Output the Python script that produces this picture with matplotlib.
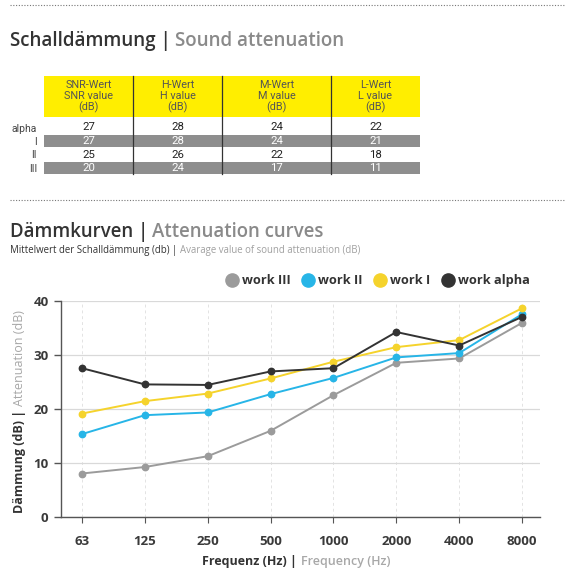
import matplotlib
matplotlib.use('Agg')
import matplotlib.pyplot as plt
from matplotlib.lines import Line2D
from matplotlib.patches import Rectangle

# --- Daten ---
freqs = ['63', '125', '250', '500', '1000', '2000', '4000', '8000']
work_alpha = [27.5, 24.5, 24.4, 26.9, 27.5, 34.2, 31.7, 37.0]
work_1 = [19.1, 21.4, 22.8, 25.6, 28.7, 31.4, 32.7, 38.6]
work_2 = [15.3, 18.8, 19.3, 22.7, 25.7, 29.5, 30.3, 37.5]
work_3 = [8.0, 9.2, 11.2, 15.9, 22.5, 28.5, 29.3, 35.9]

table_cols = ['SNR-Wert\nSNR value\n(dB)', 'H-Wert\nH value\n(dB)',
              'M-Wert\nM value\n(dB)', 'L-Wert\nL value\n(dB)']
table_rows = ['alpha', 'I', 'II', 'III']
snr_vals = [27, 27, 25, 20]
h_vals = [28, 28, 26, 24]
m_vals = [24, 24, 22, 17]
l_vals = [22, 21, 18, 11]

C_GRAY = '#9b9b9b'
C_BLUE = '#27b5e7'
C_YELLOW = '#f5d32c'
C_BLACK = '#333333'
DARK = '#333333'
LIGHT = '#8a8a8a'

W, H = 587, 586
fig = plt.figure(figsize=(W / 100, H / 100), dpi=100)
fig.patch.set_facecolor('white')

# Hintergrund-Achse in Pixelkoordinaten
bg = fig.add_axes([0, 0, 1, 1])
bg.set_xlim(0, W)
bg.set_ylim(H, 0)
bg.axis('off')

renderer = fig.canvas.get_renderer()


def multi_text(x, y, parts, rotation=0, gap=4, **kw):
    # Text in mehreren Farben hintereinander setzen
    for txt, color, weight in parts:
        if rotation == 0:
            t = bg.text(x, y, txt, color=color, fontweight=weight,
                        ha='left', va='center', **kw)
            bb = t.get_window_extent(renderer).transformed(bg.transData.inverted())
            x = max(bb.x0, bb.x1) + gap
        else:
            t = bg.text(x, y, txt, color=color, fontweight=weight, rotation=90,
                        ha='center', va='bottom', **kw)
            bb = t.get_window_extent(renderer).transformed(bg.transData.inverted())
            y = min(bb.y0, bb.y1) - gap


# gepunktete Trennlinien
for yy in [4.5, 200]:
    bg.plot([10, 565], [yy, yy], color='#777777', lw=0.8, ls=(0, (1, 1.5)))

# Titel
multi_text(10, 41, [('Schalldämmung |', DARK, 'semibold'),
                    ('Sound attenuation', LIGHT, 'semibold')],
           fontsize=13.5, family='Open Sans')
multi_text(10, 232, [('Dämmkurven |', DARK, 'semibold'),
                     ('Attenuation curves', LIGHT, 'semibold')],
           fontsize=13.4, family='Open Sans')
multi_text(10, 250, [('Mittelwert der Schalldämmung (db) |', DARK, 'normal'),
                     ('Avarage value of sound attenuation (dB)', '#a0a0a0', 'normal')],
           gap=2.5, fontsize=6.9, family='Open Sans')

# --- Tabelle ---
col_edges = [44, 133, 222, 331, 420]
head_top, head_bot = 76, 117
row_y = [127.5, 141, 154.5, 168]
row_h = 12
bg.add_patch(Rectangle((col_edges[0], head_top), col_edges[-1] - col_edges[0],
                       head_bot - head_top, color='#ffee00', lw=0))
values = list(zip(snr_vals, h_vals, m_vals, l_vals))
for i, (lab, vals) in enumerate(zip(table_rows, values)):
    shaded = i % 2 == 1
    if shaded:
        bg.add_patch(Rectangle((col_edges[0], row_y[i] - row_h / 2),
                               col_edges[-1] - col_edges[0], row_h,
                               color='#8e8e8e', lw=0))
    bg.text(37, row_y[i] + 1, lab, ha='right', va='center', fontsize=7.5,
            family='Roboto', color='#444444')
    for j, v in enumerate(vals):
        cx = (col_edges[j] + col_edges[j + 1]) / 2
        bg.text(cx, row_y[i], str(v), ha='center', va='center', fontsize=8.2,
                family='Roboto', color='white' if shaded else '#222222')
for j, lab in enumerate(table_cols):
    cx = (col_edges[j] + col_edges[j + 1]) / 2
    bg.text(cx, (head_top + head_bot) / 2, lab, ha='center', va='center',
            fontsize=7.8, family='Roboto', color='#555555', linespacing=1.1)
for xe in col_edges[1:-1]:
    bg.plot([xe, xe], [head_top, 174], color='#333333', lw=0.9)

# --- Diagramm ---
ax = fig.add_axes([61 / W, (H - 516.7) / H, 479 / W, 216 / H])
xs = range(len(freqs))
series = [(work_3, C_GRAY, 'work III'), (work_2, C_BLUE, 'work II'),
          (work_1, C_YELLOW, 'work I'), (work_alpha, C_BLACK, 'work alpha')]
handles = []
for vals, col, lab in series:
    ax.plot(xs, vals, color=col, lw=1.4, marker='o', ms=4.6, label=lab, zorder=3)
    handles.append(Line2D([], [], ls='none', marker='o', ms=9.5, color=col, label=lab))

ax.set_xlim(-0.334, 7.286)
ax.set_ylim(0, 40)
ax.set_yticks([0, 10, 20, 30, 40])
ax.set_xticks(list(xs))
ax.set_xticklabels(freqs)
for s in ['top', 'right']:
    ax.spines[s].set_visible(False)
for s in ['left', 'bottom']:
    ax.spines[s].set_color('#555555')
    ax.spines[s].set_linewidth(1.0)
ax.yaxis.grid(True, color='#d9d9d9', lw=0.9)
ax.xaxis.grid(True, color='#e3e3e3', lw=0.7, ls=(0, (3, 3)))
ax.set_axisbelow(True)
ax.tick_params(axis='y', length=5, width=1, color='#555555', pad=4)
ax.tick_params(axis='x', length=4, width=0.8, color='#555555', pad=9)
for t in ax.get_xticklabels() + ax.get_yticklabels():
    t.set_fontweight('bold')
    t.set_fontsize(9.5)
    t.set_color('#3a3a3a')
    t.set_family('Open Sans')

leg = fig.legend(handles=handles, ncol=4, frameon=False,
                 loc='center right', bbox_to_anchor=(535 / W, 1 - 281 / H),
                 handlelength=0.9, handletextpad=0.35, columnspacing=0.9,
                 borderaxespad=0, prop={'family': 'Open Sans', 'weight': 'bold', 'size': 9.2})
for t in leg.get_texts():
    t.set_color('#333333')

# Achsenbeschriftungen
multi_text(202, 562, [('Frequenz (Hz) |', DARK, 'bold'),
                      ('Frequency (Hz)', '#a8a8a8', 'semibold')],
           fontsize=9, family='Open Sans')
multi_text(20, 513, [('Dämmung (dB) |', DARK, 'bold'),
                     ('Attenuation (dB)', '#a8a8a8', 'normal')],
           rotation=90, fontsize=9, family='Open Sans')

fig.savefig('out.png', dpi=100)
